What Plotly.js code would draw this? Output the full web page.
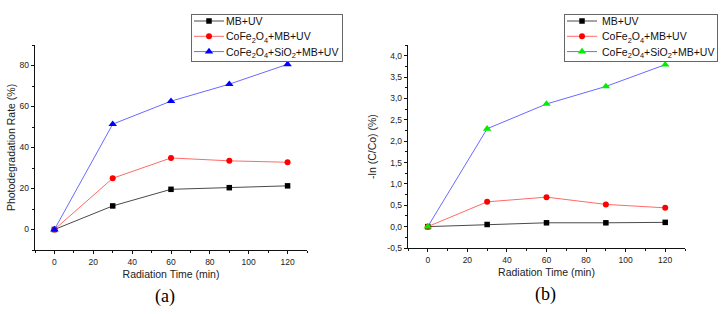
<!DOCTYPE html>
<html>
<head>
<meta charset="utf-8">
<script src="https://cdn.plot.ly/plotly-3.0.1.min.js"></script>
<style>
html,body{margin:0;padding:0;background:#fff;}
#chart{width:727px;height:314px;}
</style>
</head>
<body>
<div id="chart"></div>
<script>
// ---- data ----
const time = [0, 30, 60, 90, 120];
const seriesNames = ["MB+UV", "CoFe<sub>2</sub>O<sub>4</sub>+MB+UV", "CoFe<sub>2</sub>O<sub>4</sub>+SiO<sub>2</sub>+MB+UV"];
// (a) photodegradation rate (%)
const rateMB = [0, 11.5, 19.6, 20.4, 21.3];
const rateCo = [0, 25.0, 34.9, 33.5, 32.8];
const rateCoSi = [0, 51.4, 62.6, 70.9, 80.6];
// (b) -ln(C/Co)
const lnMB = [0, 0.05, 0.09, 0.09, 0.10];
const lnCo = [0, 0.58, 0.69, 0.52, 0.44];
const lnCoSi = [0, 2.29, 2.87, 3.28, 3.79];
// axis tick labels
const xTicks = [0, 20, 40, 60, 80, 100, 120];
const yTicksA = [0, 20, 40, 60, 80];
const yTicksB = [-0.5, 0, 0.5, 1.0, 1.5, 2.0, 2.5, 3.0, 3.5, 4.0];
const yTickTextB = ["-0,5", "0,0", "0,5", "1,0", "1,5", "2,0", "2,5", "3,0", "3,5", "4,0"];
const panelLabels = ["(a)", "(b)"];
const xTitle = "Radiation Time (min)";
const yTitleA = "Photodegradation Rate (%)";
const yTitleB = "-ln (C/Co) (%)";

const W = 727, H = 314;
const FONT = "Liberation Sans, Arial, sans-serif";

function tr(x, y, name, xa, ya, lineColor, mColor, sym, msize, legend) {
  return {
    x: x, y: y, name: name, type: "scatter", mode: "lines+markers",
    xaxis: xa, yaxis: ya, legend: legend,
    line: {color: lineColor, width: 1},
    marker: {color: mColor, symbol: sym, size: msize, line: {width: 0}}
  };
}

const data = [
  tr(time, rateMB, seriesNames[0], "x", "y", "#4a4a4a", "#000000", "square", 5.5, "legend"),
  tr(time, rateCo, seriesNames[1], "x", "y", "#ff6a6a", "#ff0000", "circle", 6, "legend"),
  tr(time, rateCoSi, seriesNames[2], "x", "y", "#6a6aff", "#0000ff", "triangle-up", 7.5, "legend"),
  tr(time, lnMB, seriesNames[0], "x2", "y2", "#4a4a4a", "#000000", "square", 5.5, "legend2"),
  tr(time, lnCo, seriesNames[1], "x2", "y2", "#ff6a6a", "#ff0000", "circle", 6, "legend2"),
  tr(time, lnCoSi, seriesNames[2], "x2", "y2", "#6a6aff", "#00ee00", "triangle-up", 7.5, "legend2")
];

const tickFont = {family: FONT, size: 8.5, color: "#222"};
const titleFont = {family: FONT, size: 10.5, color: "#222"};

function xAxis(domain, anchor) {
  return {
    domain: domain, anchor: anchor, range: [-10, 130],
    showgrid: false, zeroline: false, showline: true, linecolor: "#111", linewidth: 1.3,
    ticks: "outside", ticklen: 3, tickwidth: 1, tickcolor: "#111",
    tickmode: "array", tickvals: xTicks, tickfont: tickFont,
    minor: {tickmode: "linear", tick0: -10, dtick: 10, ticks: "outside", ticklen: 2, tickcolor: "#111"},
    title: {text: xTitle, font: titleFont, standoff: 5},
    automargin: false, fixedrange: true
  };
}

const legendStyle = {
  xanchor: "left", yanchor: "top",
  bordercolor: "#666", borderwidth: 1, bgcolor: "#fff",
  font: {family: FONT, size: 10.5, color: "#111"}, itemwidth: 30,
  tracegroupgap: 0
};

const layout = {
  width: W, height: H,
  margin: {l: 0, r: 0, t: 0, b: 0},
  paper_bgcolor: "#fff", plot_bgcolor: "rgba(0,0,0,0)",
  font: {family: FONT, size: 10.5, color: "#222"},
  xaxis: xAxis([35 / W, 307 / W], "y"),
  xaxis2: xAxis([408 / W, 685 / W], "y2"),
  yaxis: {
    domain: [1 - 250 / H, 1 - 45 / H], anchor: "x", range: [-10, 90],
    showgrid: false, zeroline: false, showline: true, linecolor: "#111", linewidth: 1.3,
    ticks: "outside", ticklen: 3, tickwidth: 1, tickcolor: "#111",
    tickmode: "array", tickvals: yTicksA, tickfont: tickFont,
    minor: {tickmode: "linear", tick0: -10, dtick: 10, ticks: "outside", ticklen: 2, tickcolor: "#111"},
    title: {text: yTitleA, font: titleFont, standoff: 2},
    automargin: false, fixedrange: true
  },
  yaxis2: {
    domain: [1 - 248 / H, 1 - 45 / H], anchor: "x2", range: [-0.5, 4.25],
    showgrid: false, zeroline: false, showline: true, linecolor: "#111", linewidth: 1.3,
    ticks: "outside", ticklen: 3, tickwidth: 1, tickcolor: "#111",
    tickmode: "array", tickvals: yTicksB, ticktext: yTickTextB, tickfont: tickFont,
    minor: {tickmode: "linear", tick0: -0.5, dtick: 0.25, ticks: "outside", ticklen: 2, tickcolor: "#111"},
    title: {text: yTitleB, font: titleFont, standoff: 8},
    automargin: false, fixedrange: true
  },
  legend: Object.assign({x: 191 / W, y: 1 - 14 / H}, legendStyle),
  legend2: Object.assign({x: 564 / W, y: 1 - 14 / H}, legendStyle),
  showlegend: true,
  annotations: [
    {text: panelLabels[0], x: 165 / W, y: 1 - 296 / H, xref: "paper", yref: "paper",
     xanchor: "center", yanchor: "middle", showarrow: false,
     font: {family: "Liberation Serif, Times New Roman, serif", size: 18, color: "#000"}},
    {text: panelLabels[1], x: 545 / W, y: 1 - 294 / H, xref: "paper", yref: "paper",
     xanchor: "center", yanchor: "middle", showarrow: false,
     font: {family: "Liberation Serif, Times New Roman, serif", size: 18, color: "#000"}}
  ]
};

// Compact the legend rows (the reference uses tighter spacing than Plotly's default)
function compactLegends(gd) {
  const ROW = 15.3, FIRST = 7, BOXH = 47;
  const widths = {legend: 151, legend2: 153};
  ["legend", "legend2"].forEach(function (id) {
    const lg = gd.querySelector("g." + id);
    if (!lg) return;
    const items = lg.querySelectorAll("g.traces");
    items.forEach(function (it, i) {
      const t = it.getAttribute("transform") || "";
      const m = t.match(/translate\(\s*([-\d.e]+)[ ,]+([-\d.e]+)\s*\)/);
      const x = m ? parseFloat(m[1]) : 0;
      it.setAttribute("transform", "translate(" + (x - 3) + "," + (FIRST + i * ROW) + ")");
      const txt = it.querySelector("text.legendtext");
      if (txt) {
        const tx = parseFloat(txt.getAttribute("x") || "40");
        txt.setAttribute("x", tx - 3);
      }
    });
    const bg = lg.querySelector("rect.bg");
    if (bg) { bg.setAttribute("height", BOXH); bg.setAttribute("width", widths[id]); }
    lg.querySelectorAll("clipPath rect").forEach(function (r) {
      r.setAttribute("height", BOXH); r.setAttribute("width", widths[id]);
    });
  });
}

Plotly.newPlot("chart", data, layout, {staticPlot: true, displayModeBar: false})
  .then(function (gd) { compactLegends(gd); });
</script>
</body>
</html>
